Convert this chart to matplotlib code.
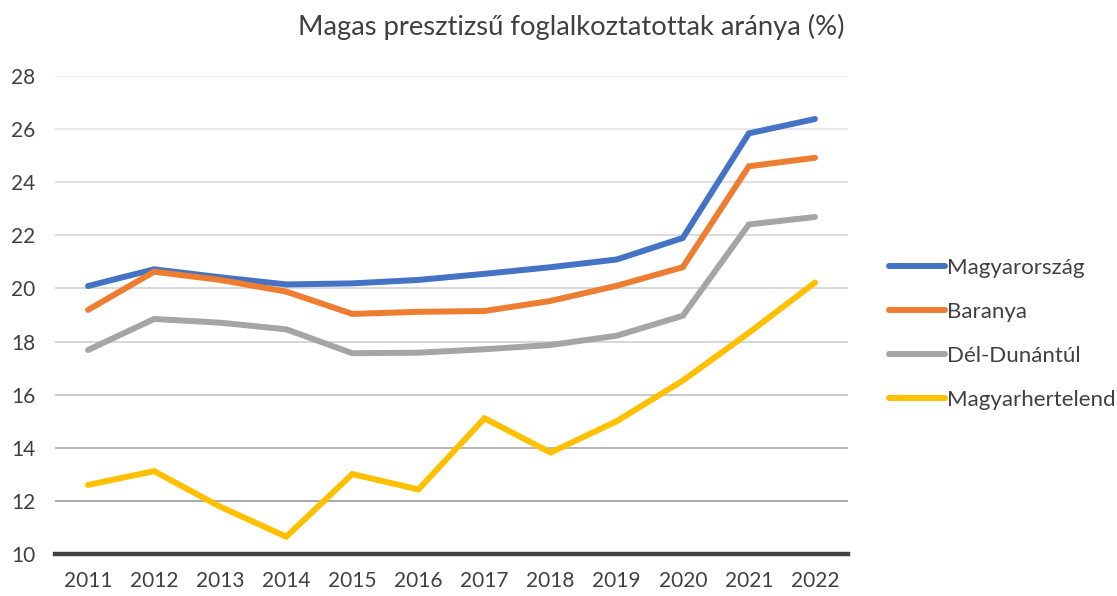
import matplotlib
matplotlib.use("Agg")
import matplotlib.pyplot as plt

years = ['2011', '2012', '2013', '2014', '2015', '2016',
         '2017', '2018', '2019', '2020', '2021', '2022']

magyarorszag = [20.09, 20.72, 20.42, 20.15, 20.19, 20.32,
                20.55, 20.80, 21.09, 21.90, 25.84, 26.38]
baranya = [19.19, 20.63, 20.32, 19.88, 19.04, 19.12,
           19.15, 19.53, 20.10, 20.80, 24.60, 24.92]
del_dunantul = [17.68, 18.85, 18.71, 18.46, 17.56, 17.58,
                17.71, 17.87, 18.22, 18.97, 22.41, 22.69]
magyarhertelend = [12.60, 13.12, 11.78, 10.65, 13.01, 12.43,
                   15.11, 13.82, 15.00, 16.53, 18.33, 20.22]

series = [
    ('Magyarország', magyarorszag, '#4472C4'),
    ('Baranya', baranya, '#ED7D31'),
    ('Dél-Dunántúl', del_dunantul, '#A5A5A5'),
    ('Magyarhertelend', magyarhertelend, '#FFC000'),
]

plt.rcParams['font.family'] = ['Lato', 'DejaVu Sans']
text_color = '#404040'

fig = plt.figure(figsize=(11.17, 5.96), dpi=100)
ax = fig.add_axes([0.0492, 0.0705, 0.7100, 0.8020])

x = list(range(len(years)))
for name, vals, color in series:
    ax.plot(x, vals, color=color, linewidth=4.3, label=name,
            solid_capstyle='round', solid_joinstyle='miter')

ax.set_xlim(-0.5, len(years) - 0.5)
ax.set_ylim(10, 28)
ax.set_yticks(range(10, 29, 2))
ax.set_xticks(x)
ax.set_xticklabels(years)

ax.tick_params(axis='both', length=0, labelsize=15, colors=text_color)
ax.tick_params(axis='y', pad=14)
ax.tick_params(axis='x', pad=12)

for side in ['top', 'right', 'left']:
    ax.spines[side].set_visible(False)
ax.spines['bottom'].set_color('#404040')
ax.spines['bottom'].set_linewidth(3.2)

# gridlines get lighter toward the top, as in the original
ax.grid(axis='y', linewidth=1.4, zorder=0)
grid_colors = ['#404040', '#a9a9a9', '#b5b5b5', '#cacaca', '#d6d6d6',
               '#d9d9d9', '#dcdcdc', '#e0e0e0', '#e8e8e8', '#f0f0f0']
for line, c in zip(ax.get_ygridlines(), grid_colors):
    line.set_color(c)
ax.set_axisbelow(True)

fig.text(0.511, 0.954, 'Magas presztizsű foglalkoztatottak aránya (%)',
         ha='center', va='center', fontsize=19.7, color=text_color)

leg = ax.legend(loc='center left', bbox_to_anchor=(1.027, 0.46),
                frameon=False, fontsize=16, handlelength=2.5,
                handletextpad=0.1, labelspacing=1.08)
for t in leg.get_texts():
    t.set_color(text_color)

fig.savefig('out.png', dpi=100)
